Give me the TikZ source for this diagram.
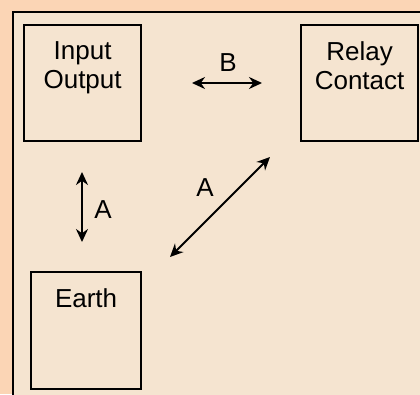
\documentclass[tikz,border=0pt]{standalone}
\usepackage{fontspec}
\setmainfont{Liberation Sans}
\usetikzlibrary{arrows.meta}
\definecolor{outerbg}{HTML}{FBD5B5}
\definecolor{innerbg}{HTML}{F5E4D0}
\tikzset{
  blk/.style={draw=black,line width=2.2pt,minimum width=117pt,minimum height=116pt,inner sep=0pt},
  lbl/.style={font=\fontsize{26}{29}\selectfont,align=center,inner sep=0pt},
  dbl/.style={line width=2pt,{Stealth[length=13pt,width=12pt]}-{Stealth[length=13pt,width=12pt]}}
}
\begin{document}
\begin{tikzpicture}[x=1pt,y=-1pt]
\useasboundingbox (0,0) rectangle (420,394);
\fill[outerbg] (0,0) rectangle (420,394);
\fill[innerbg] (13,12) rectangle (422,396);
\draw[line width=2.2pt] (13,396) -- (13,12) -- (422,12);
\node[blk,anchor=north west] (io) at (23,24) {};
\node[blk,anchor=north west] (rc) at (300,24) {};
\node[blk,anchor=north west,minimum width=110pt,minimum height=117pt] (ea) at (30,271) {};
\node[lbl,anchor=north] (iot) at ([yshift=-17pt]io.north) {Input\\Output};
\node[lbl,anchor=north] (rct) at ([yshift=-17pt]rc.north) {Relay\\Contact};
\node[lbl,anchor=north] (eat) at ([yshift=-17pt]ea.north) {Earth};
\coordinate (b1) at (192,83);
\coordinate (b2) at (262,83);
\draw[dbl] (b1) -- (b2);
\node[lbl] (bl) at (228,63) {B};
\coordinate (v1) at (82,172);
\coordinate (v2) at (82,242);
\draw[dbl] (v1) -- (v2);
\node[lbl] (vl) at (103,210) {A};
\coordinate (d1) at (170,257);
\coordinate (d2) at (270,157);
\draw[dbl] (d1) -- (d2);
\node[lbl] (dl) at (205,188) {A};
\end{tikzpicture}
\end{document}
